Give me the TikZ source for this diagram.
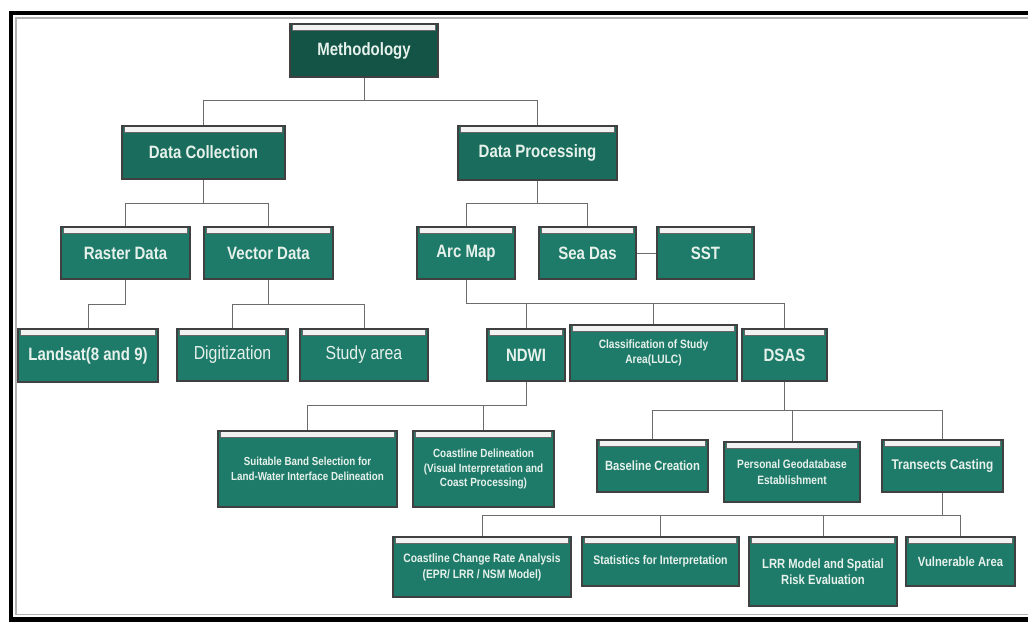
\documentclass[tikz,border=0pt]{standalone}
\usepackage{fontspec}
\setmainfont{Liberation Sans}[FakeStretch=0.84]
\usepackage{tikz}
\definecolor{boxdark}{HTML}{145446}
\definecolor{boxmid}{HTML}{1A6D5C}
\definecolor{boxgreen}{HTML}{1F7B69}
\definecolor{boxtext}{HTML}{E6F1EC}
\definecolor{bandgray}{HTML}{F2F2F2}
\tikzset{
  sz/.style 2 args={minimum width=#1*0.025cm, minimum height=#2*0.025cm},
  box/.style={draw=black!75, line width=0.8pt, fill=boxgreen, text=boxtext,
    align=center, inner sep=0pt, font=\bfseries,
    path picture={\fill[bandgray, draw=black!60, line width=0.5pt]
      ([xshift=2pt,yshift=-0.5pt]path picture bounding box.north west) rectangle
      ([xshift=-2pt,yshift=-0.16cm]path picture bounding box.north east);}},
  big/.style={font=\bfseries\fontsize{12.7}{14}\selectfont},
  thin/.style={font=\mdseries\fontsize{13.4}{15}\selectfont},
  mid/.style={font=\bfseries\fontsize{9.5}{11.5}\selectfont},
  small/.style={font=\bfseries\fontsize{8.4}{10.5}\selectfont},
  link/.style={draw=gray!85!black, line width=0.7pt}
}
\begin{document}
\begin{tikzpicture}[x=0.025cm, y=-0.025cm]
  \useasboundingbox (0,0) rectangle (1028,622);
  % frame (right side runs off the page)
  \draw[line width=3.2pt] (1035,13) -- (11,13) -- (11,619.5) -- (1035,619.5);
  \draw[gray!60, line width=1pt] (1035,18) -- (16,18) -- (16,614.5) -- (1035,614.5);

  % level 0 and 1
  \node[box, big, fill=boxdark, sz={148}{53}] (meth) at (364,50.5) {Methodology};
  \node[box, big, fill=boxmid, sz={163}{53}] (dcol) at (203.5,152.5) {Data Collection};
  \node[box, big, fill=boxmid, sz={159}{54}] (dproc) at (537.5,153) {Data Processing};

  % level 2
  \node[box, big, sz={129}{52}] (raster) at (125.5,253) {Raster Data};
  \node[box, big, sz={129}{52}] (vector) at (268.5,253) {Vector Data};
  \node[box, big, sz={98}{52}] (arcmap) at (466,253) {Arc Map};
  \node[box, big, sz={97}{52}] (seadas) at (587.5,253) {Sea Das};
  \node[box, big, sz={97}{52}] (sst) at (705.5,253) {SST};

  % level 3
  \node[box, big, sz={140}{53}] (landsat) at (88,355.5) {Landsat(8 and 9)};
  \node[box, thin, sz={111}{52}] (digit) at (232.5,355) {Digitization};
  \node[box, thin, sz={128}{52}] (study) at (364,355) {Study area};
  \node[box, big, sz={78}{52}] (ndwi) at (526,355) {NDWI};
  \node[box, small, font=\bfseries\fontsize{8.6}{10.5}\selectfont, sz={167}{56}] (lulc) at (653.5,353) {Classification of Study\\Area(LULC)};
  \node[box, big, sz={85}{52}] (dsas) at (784.5,355) {DSAS};

  % level 4
  \node[box, small, font=\bfseries\fontsize{8.3}{11}\selectfont, sz={179}{76}] (band) at (307.5,469) {Suitable Band Selection for\\Land-Water Interface Delineation};
  \node[box, small, sz={141}{76}] (cdel) at (483.5,469) {Coastline Delineation\\(Visual Interpretation and\\Coast Processing)};
  \node[box, mid, sz={111}{52}] (base) at (652.5,466) {Baseline Creation};
  \node[box, mid, font=\bfseries\fontsize{8.6}{11.5}\selectfont, sz={136}{60}] (geo) at (792,472) {Personal Geodatabase\\Establishment};
  \node[box, mid, font=\bfseries\fontsize{10}{12}\selectfont, sz={121}{52}] (trans) at (942.5,466) {Transects Casting};

  % level 5
  \node[box, mid, font=\bfseries\fontsize{8.7}{11.5}\selectfont, sz={178}{60}] (ccr) at (482,567) {Coastline Change Rate Analysis\\(EPR/ LRR / NSM Model)};
  \node[box, mid, font=\bfseries\fontsize{8.9}{11}\selectfont, sz={157}{49}] (stat) at (660.5,561.5) {Statistics for Interpretation};
  \node[box, mid, sz={148}{69}] (lrr) at (823,571.5) {LRR Model and Spatial\\Risk Evaluation};
  \node[box, mid, sz={109}{49}] (vuln) at (960.5,561.5) {Vulnerable Area};

  % connectors
  \draw[link] (meth.south) -- ++(0,23) coordinate (b0);
  \draw[link] (dcol.north) |- (b0) -| (dproc.north);
  \draw[link] (dcol.south) -- ++(0,24) coordinate (b1);
  \draw[link] (raster.north) |- (b1) -| (vector.north);
  \draw[link] (dproc.south) -- ++(0,23) coordinate (b2);
  \draw[link] (arcmap.north) |- (b2) -| (seadas.north);
  \draw[link] (seadas) -- (sst);

  \draw[link] (raster.south) -- ++(0,25) -| (landsat.north);
  \draw[link] (vector.south) -- ++(0,25) coordinate (b4);
  \draw[link] (digit.north) |- (b4) -| (study.north);
  \draw[link] (arcmap.south) -- ++(0,24) coordinate (b5) -| (dsas.north);
  \draw[link] (ndwi.north) -- (ndwi.north |- b5);
  \draw[link] (lulc.north) -- (lulc.north |- b5);

  \draw[link] (ndwi.south) -- ++(0,24) coordinate (b6);
  \draw[link] (band.north) |- (b6);
  \draw[link] (cdel.north) -- (cdel.north |- b6);
  \draw[link] (dsas.south) -- ++(0,29) coordinate (b7);
  \draw[link] (base.north) |- (b7) -| (trans.north);
  \draw[link] (geo.north) -- (geo.north |- b7);

  \draw[link] (trans.south) -- ++(0,23) coordinate (b8);
  \draw[link] (ccr.north) |- (b8) -| (vuln.north);
  \draw[link] (stat.north) -- (stat.north |- b8);
  \draw[link] (lrr.north) -- (lrr.north |- b8);
\end{tikzpicture}
\end{document}
